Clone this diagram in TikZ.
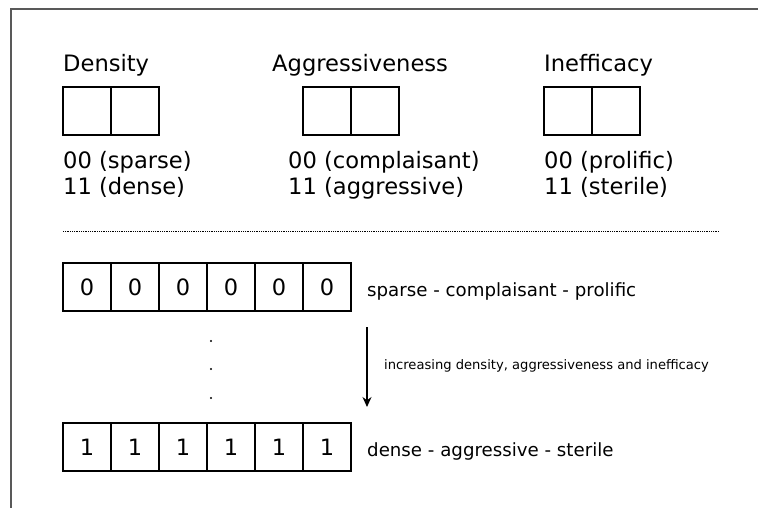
\documentclass[tikz,border=0pt]{standalone}
\usepackage{fontspec}
\setmainfont{DejaVu Sans}
\usetikzlibrary{arrows.meta}
\begin{document}
\begin{tikzpicture}[x=1pt,y=-1pt,
 cell/.style={draw,line width=1.2pt,minimum size=48pt,inner sep=0pt,font=\fontsize{22.5}{26}\selectfont},
 big/.style={anchor=base west,inner sep=0pt,font=\fontsize{22.6}{26}\selectfont},
 mid/.style={anchor=base west,inner sep=0pt,font=\fontsize{18.2}{22}\selectfont},
 small/.style={anchor=base west,inner sep=0pt,font=\fontsize{13.1}{16}\selectfont},
 frame/.style={draw=black!65,line width=1.1pt},
 dotline/.style={line width=0.9pt,dash pattern=on 0.9pt off 0.9pt},
 arr/.style={line width=1.2pt,-{Stealth[length=10pt,width=9pt]}}]
\useasboundingbox (0,0) rectangle (758,508);
% frame
\coordinate (fbl) at (11,508);
\coordinate (ftl) at (11,9);
\coordinate (ftr) at (758,9);
\draw[frame] (fbl) -- (ftl) -- (ftr);
% titles
\node[big] (tden) at (63,72) {Density};
\node[big] (tagg) at (272,72) {Aggressiveness};
\node[big] (tine) at (544,72) {Inefficacy};
% top boxes
\node[cell] (d1) at (87,111) {};
\node[cell] (d2) at (135,111) {};
\node[cell] (a1) at (327,111) {};
\node[cell] (a2) at (375,111) {};
\node[cell] (i1) at (568,111) {};
\node[cell] (i2) at (616,111) {};
% value texts
\node[big] (den0) at (63,168) {00 (sparse)};
\node[big] (den1) at (63,194) {11 (dense)};
\node[big] (agg0) at (288,168) {00 (complaisant)};
\node[big] (agg1) at (288,194) {11 (aggressive)};
\node[big] (ine0) at (544,168) {00 (prolific)};
\node[big] (ine1) at (544,194) {11 (sterile)};
% dotted separator
\coordinate (sepl) at (63,231);
\coordinate (sepr) at (719,231);
\draw[dotline] (sepl) -- (sepr);
% rows of bits
\foreach \i in {0,...,5}{
  \node[cell] (z\i) at (87+48*\i,287) {0};
  \node[cell] (o\i) at (87+48*\i,447) {1};
}
\node[mid] (lz) at (367,296) {sparse - complaisant - prolific};
\node[mid] (lo) at (367,456) {dense - aggressive - sterile};
% vertical dots
\node[circle,fill,inner sep=0pt,minimum size=2.4pt] (v1) at (211,341) {};
\node[circle,fill,inner sep=0pt,minimum size=2.4pt] (v2) at (211,369) {};
\node[circle,fill,inner sep=0pt,minimum size=2.4pt] (v3) at (211,398) {};
% arrow
\coordinate (as) at (367,327);
\coordinate (ae) at (367,407);
\draw[arr] (as) -- (ae);
\node[small] (la) at (384,369) {increasing density, aggressiveness and inefficacy};
\end{tikzpicture}
\end{document}
